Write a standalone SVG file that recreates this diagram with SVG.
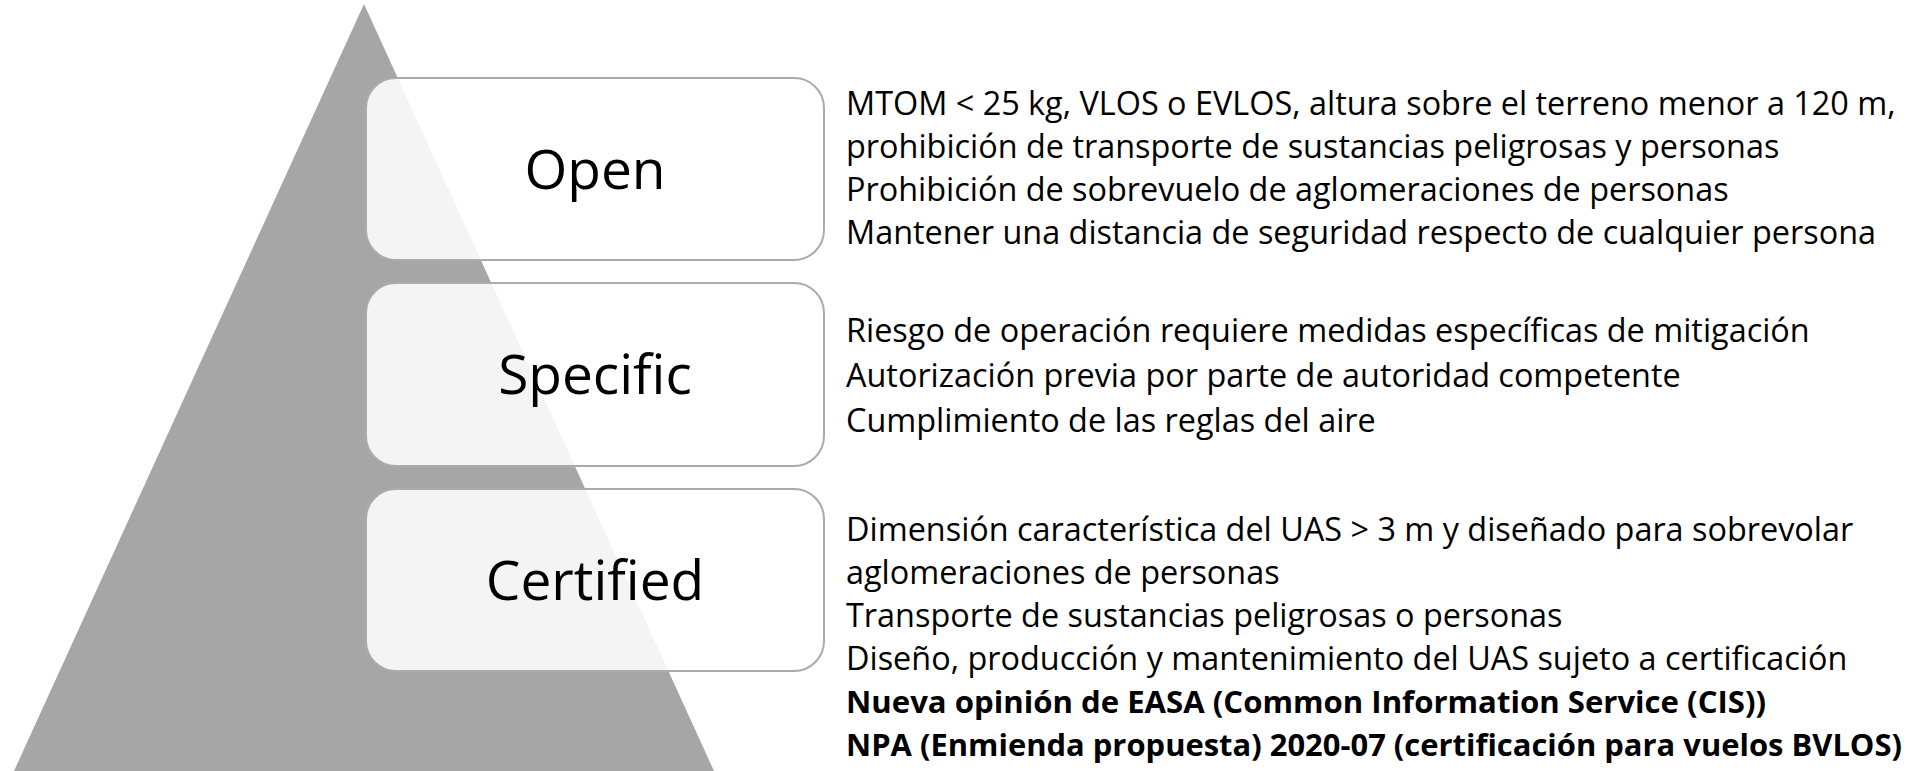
<svg xmlns="http://www.w3.org/2000/svg" width="1914" height="771" viewBox="0 0 1914 771">
<style>
.box{fill:#ffffff;fill-opacity:0.88;stroke:#ababab;stroke-width:2}
.lbl{font-family:"Open Sans","Noto Sans","Liberation Sans",sans-serif;font-size:55px;fill:#000;text-anchor:middle}
.txt{font-family:"Open Sans","Noto Sans","Liberation Sans",sans-serif;font-size:32.4px;fill:#000}
.b{font-weight:bold;font-size:30.8px}
</style>
<rect width="1914" height="771" fill="#ffffff"/>
<g id="pyramid">
<polygon points="364,4 14,771 714,771" fill="#a6a6a6"/>
</g>
<g id="connectors"></g>
<g id="open">
<rect class="box" x="366" y="78" width="458" height="182" rx="30" ry="30"/>
<text class="lbl" x="595" y="189">Open</text>
<text class="txt" x="846" y="115">MTOM &lt; 25 kg, VLOS o EVLOS, altura sobre el terreno menor a 120 m,</text>
<text class="txt" x="846" y="158">prohibición de transporte de sustancias peligrosas y personas</text>
<text class="txt" x="846" y="201">Prohibición de sobrevuelo de aglomeraciones de personas</text>
<text class="txt" x="846" y="244">Mantener una distancia de seguridad respecto de cualquier persona</text>
</g>
<g id="specific">
<rect class="box" x="366" y="283" width="458" height="183" rx="30" ry="30"/>
<text class="lbl" x="595" y="394">Specific</text>
<text class="txt" x="846" y="342">Riesgo de operación requiere medidas específicas de mitigación</text>
<text class="txt" x="846" y="387">Autorización previa por parte de autoridad competente</text>
<text class="txt" x="846" y="432">Cumplimiento de las reglas del aire</text>
</g>
<g id="certified">
<rect class="box" x="366" y="489" width="458" height="182" rx="30" ry="30"/>
<text class="lbl" x="595" y="600">Certified</text>
<text class="txt" x="846" y="541">Dimensión característica del UAS &gt; 3 m y diseñado para sobrevolar</text>
<text class="txt" x="846" y="584">aglomeraciones de personas</text>
<text class="txt" x="846" y="627">Transporte de sustancias peligrosas o personas</text>
<text class="txt" x="846" y="670">Diseño, producción y mantenimiento del UAS sujeto a certificación</text>
<text class="txt b" x="846" y="713" textLength="920" lengthAdjust="spacingAndGlyphs">Nueva opinión de EASA (Common Information Service (CIS))</text>
<text class="txt b" x="846" y="756" textLength="1056" lengthAdjust="spacingAndGlyphs">NPA (Enmienda propuesta) 2020-07 (certificación para vuelos BVLOS)</text>
</g>
</svg>
